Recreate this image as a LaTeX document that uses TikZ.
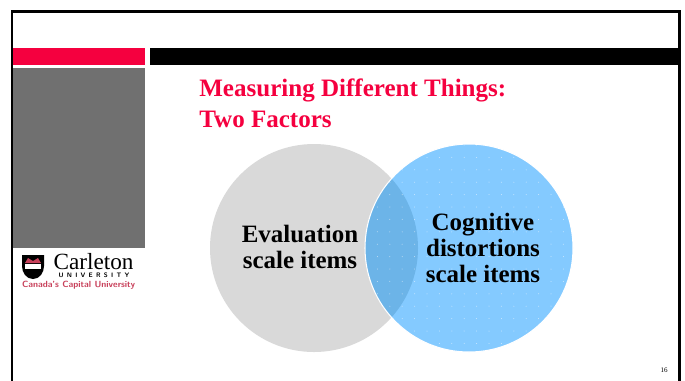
\documentclass[tikz,border=0pt]{standalone}
\usepackage{fontspec}
\setmainfont{Liberation Serif}
\usepackage{tikz}
\definecolor{crimson}{HTML}{F5003F}
\definecolor{slate}{HTML}{707070}
\definecolor{paleblue}{HTML}{84CAFF}
\definecolor{palegrey}{HTML}{D9D9D9}
\definecolor{overlapblue}{HTML}{6CB4E8}
\definecolor{logored}{HTML}{C8405A}
\tikzset{
  venn/.style={font=\fontsize{14.2}{14.8}\selectfont\bfseries,align=center,inner sep=0pt},
  heading/.style={font=\fontsize{14.25}{17.6}\selectfont\bfseries,text=crimson,align=left,inner sep=0pt,anchor=north west}
}
\begin{document}
\begin{tikzpicture}[x=0.02cm,y=-0.02cm]
\useasboundingbox (0,0) rectangle (685,380);
\draw [line width=1.7pt,fill=white] (12,11.5) rectangle (679,384);
\fill [crimson] (13,48) rectangle (145,65);
\fill [black] (150,48) rectangle (680,65);
\fill [slate] (13,68) rectangle (145,248);
\node [heading] (title) at (199,78.5) {Measuring Different Things:\\Two Factors};
% circles
\fill [palegrey] (314,248) circle (104);
\begin{scope}
\clip (469,248) circle (104);
\fill [paleblue] (469,248) circle (104);
\fill [overlapblue] (314,248) circle (104);
\foreach \row in {0,...,17}
  \foreach \col in {0,...,17}
    \fill [white,opacity=0.6] ({365+\col*12.4},{145+\row*12.4}) circle (0.5);
\end{scope}
\draw [white,line width=0.6pt] (469,248) circle (104);
\node [venn] (eval) at (300,247) {Evaluation\\scale items};
\node [venn] (cog) at (483,247.5) {Cognitive\\distortions\\scale items};
% logo
\fill [black] (22,255) -- (44,255) -- (44,266) to[out=270,in=0] (33,279) to[out=180,in=270] (22,266) -- cycle;
\fill [logored] (25,263) -- (28,258) -- (33,261) -- (38,258) -- (41,263) -- cycle;
\fill [white] (25,264) rectangle (41,269);
\node [font=\fontsize{13.2}{14}\selectfont,inner sep=0pt] (carleton) at (93.5,262) {Carleton};
\node [font=\fontsize{3.7}{4}\selectfont\bfseries\sffamily,inner sep=0pt] (univ) at (94,275.5) {U\,\,\,N\,\,\,I\,\,\,V\,\,\,E\,\,\,R\,\,\,S\,\,\,I\,\,\,T\,\,\,Y};
\node [font=\fontsize{5.1}{6}\selectfont\bfseries\sffamily,text=logored,inner sep=0pt] (motto) at (78.5,285.5) {Canada's Capital University};
\node [font=\fontsize{4}{5}\selectfont,inner sep=0pt] (page) at (664,370) {16};
\end{tikzpicture}
\end{document}
